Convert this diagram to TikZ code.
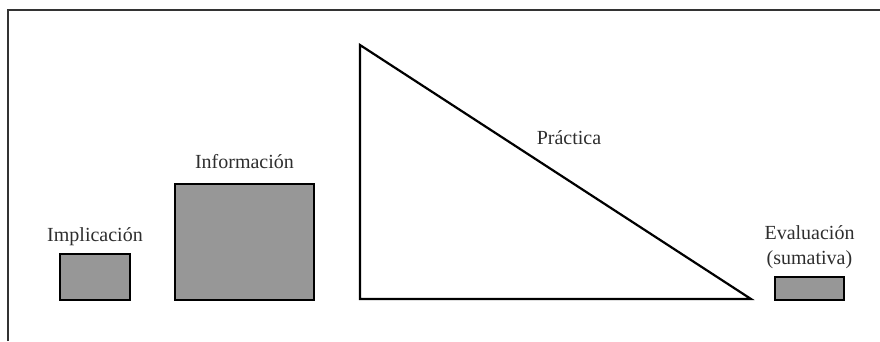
\documentclass[tikz,border=0pt]{standalone}
\usepackage{fontspec}
\setmainfont{Liberation Serif}
\usepackage{tikz}
\usetikzlibrary{positioning}
\definecolor{boxgray}{HTML}{979797}
\definecolor{txtgray}{HTML}{2E2E2E}

\begin{document}
\begin{tikzpicture}[x=1pt,y=-1pt,
  block/.style={draw, line width=1.6pt, fill=boxgray, inner sep=0pt},
  lbl/.style={text=txtgray, font=\fontsize{20}{25.5}\selectfont, inner sep=0pt,
    text height=0.75em, text depth=0.25em, align=center}]
\useasboundingbox (0,0) rectangle (880,341);
% frame
\draw[line width=2pt, black!80] (8,341) -- (8,10) -- (880,10);
% boxes
\node[block, minimum width=70pt, minimum height=46pt] (impl) at (95,277) {};
\node[block, minimum width=139pt, minimum height=116pt] (info) at (244.5,242) {};
\node[block, minimum width=69pt, minimum height=23pt] (eval) at (809.5,288.5) {};
\node[lbl, above=9pt of impl] (implLbl) {Implicación};
\node[lbl, above=12pt of info] (infoLbl) {Información};
\node[lbl, above=9pt of eval] (evalLbl) {Evaluación\\(sumativa)};
% triangle
\coordinate (triTop) at (360,45);
\coordinate (triCorner) at (360,299);
\coordinate (triTip) at (751,299);
\draw[line width=2.2pt, line join=miter] (triTop) -- (triCorner) -- (triTip) -- cycle;
\node[lbl] (pracLbl) at (569,142) {Práctica};
\end{tikzpicture}
\end{document}
